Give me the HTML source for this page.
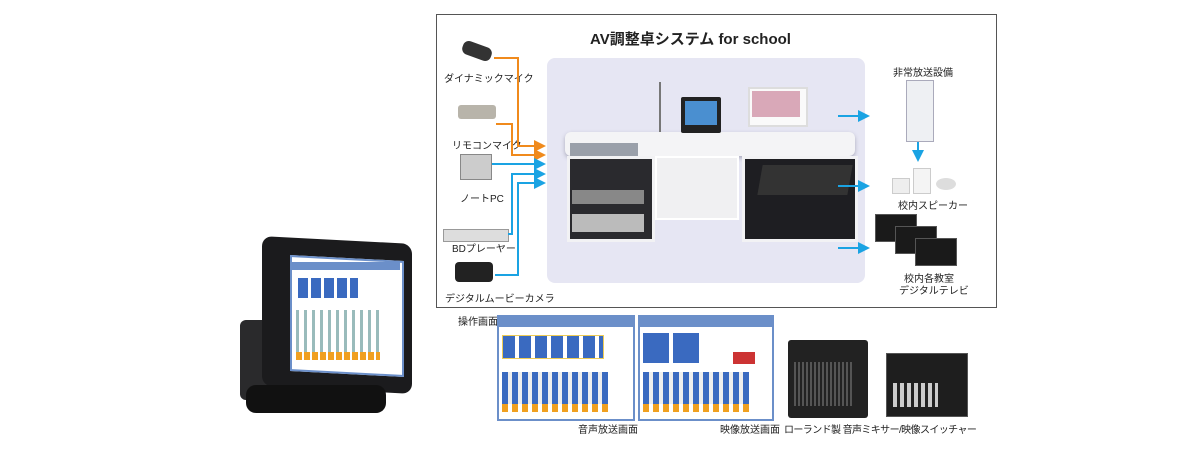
<!DOCTYPE html>
<html><head><meta charset="utf-8"><style>
body{margin:0;width:1200px;height:452px;background:#fff;position:relative;overflow:hidden;font-family:"Liberation Sans","Noto Sans CJK JP",sans-serif;color:#222}
.a{position:absolute}
.t{position:absolute;font-size:10px;white-space:nowrap;color:#222}
.scr{position:absolute;background:#fff;border:2px solid #6b8fc9}
</style></head><body>
<div class="a" style="left:436px;top:14px;width:559px;height:292px;border:1px solid #555"></div>
<div class="t" style="left:590px;top:28px;font-size:15px;font-weight:bold">AV調整卓システム for school</div>
<div class="a" style="left:547px;top:58px;width:318px;height:225px;background:#e6e6f3;border-radius:8px"></div>
<!-- desk -->
<div class="a" style="left:565px;top:132px;width:290px;height:24px;background:#f4f4f6;border-radius:6px;box-shadow:0 2px 4px #aab"></div>
<div class="a" style="left:567px;top:156px;width:82px;height:80px;background:#2a2a2e;border:3px solid #f2f2f4"></div>
<div class="a" style="left:572px;top:190px;width:72px;height:14px;background:#888"></div>
<div class="a" style="left:572px;top:214px;width:72px;height:18px;background:#bbb"></div>
<div class="a" style="left:655px;top:156px;width:80px;height:60px;background:#f0f0f2;border:2px solid #fff"></div>
<div class="a" style="left:742px;top:156px;width:110px;height:80px;background:#1e1e22;border:3px solid #f2f2f4"></div>
<div class="a" style="left:760px;top:165px;width:90px;height:30px;background:#333;transform:skewX(-10deg)"></div>
<div class="a" style="left:570px;top:143px;width:68px;height:13px;background:#9aa0aa"></div>
<div class="a" style="left:681px;top:97px;width:40px;height:36px;background:#222;border-radius:2px"></div>
<div class="a" style="left:685px;top:101px;width:32px;height:24px;background:#4a8fd0"></div>
<div class="a" style="left:748px;top:87px;width:56px;height:36px;background:#fafafa;border:2px solid #ddd"></div>
<div class="a" style="left:752px;top:91px;width:48px;height:26px;background:#d9a8b8"></div>
<div class="a" style="left:659px;top:82px;width:2px;height:50px;background:#777"></div>
<!-- left devices -->
<div class="a" style="left:462px;top:44px;width:30px;height:14px;background:#333;border-radius:6px;transform:rotate(20deg)"></div>
<div class="t" style="left:444px;top:70px">ダイナミックマイク</div>
<div class="a" style="left:458px;top:105px;width:38px;height:14px;background:#b8b4aa;border-radius:3px"></div>
<div class="t" style="left:452px;top:137px">リモコンマイク</div>
<div class="a" style="left:460px;top:154px;width:30px;height:24px;background:#ccc;border:1px solid #888"></div>
<div class="t" style="left:460px;top:190px">ノートPC</div>
<div class="a" style="left:443px;top:229px;width:64px;height:11px;background:#ddd;border:1px solid #999"></div>
<div class="t" style="left:452px;top:240px">BDプレーヤー</div>
<div class="a" style="left:455px;top:262px;width:38px;height:20px;background:#222;border-radius:4px"></div>
<div class="t" style="left:445px;top:290px">デジタルムービーカメラ</div>
<!-- connectors -->
<svg class="a" style="left:0;top:0" width="1200" height="452">
<defs><marker id="o" markerWidth="6" markerHeight="6" refX="5" refY="3" orient="auto"><path d="M0,0L6,3L0,6z" fill="#f08a1c"/></marker>
<marker id="b" markerWidth="6" markerHeight="6" refX="5" refY="3" orient="auto"><path d="M0,0L6,3L0,6z" fill="#1aa3e3"/></marker></defs>
<g fill="none" stroke-width="2">
<path d="M494,58H518V146H544" stroke="#f08a1c" marker-end="url(#o)"/>
<path d="M496,124H512V155H544" stroke="#f08a1c" marker-end="url(#o)"/>
<path d="M492,164H544" stroke="#1aa3e3" marker-end="url(#b)"/>
<path d="M508,234H512V174H544" stroke="#1aa3e3" marker-end="url(#b)"/>
<path d="M495,275H518V183H544" stroke="#1aa3e3" marker-end="url(#b)"/>
<path d="M838,116H868" stroke="#1aa3e3" marker-end="url(#b)"/>
<path d="M918,140V160" stroke="#1aa3e3" marker-end="url(#b)"/>
<path d="M838,186H868" stroke="#1aa3e3" marker-end="url(#b)"/>
<path d="M838,248H868" stroke="#1aa3e3" marker-end="url(#b)"/>
</g></svg>
<!-- right devices -->
<div class="t" style="left:893px;top:64px">非常放送設備</div>
<div class="a" style="left:906px;top:80px;width:26px;height:60px;background:#eef0f3;border:1px solid #aab"></div>
<div class="a" style="left:892px;top:178px;width:16px;height:14px;background:#eee;border:1px solid #ccc"></div>
<div class="a" style="left:913px;top:168px;width:16px;height:24px;background:#f4f4f4;border:1px solid #ccc"></div>
<div class="a" style="left:936px;top:178px;width:20px;height:12px;background:#ddd;border-radius:50%"></div>
<div class="t" style="left:898px;top:197px">校内スピーカー</div>
<div class="a" style="left:875px;top:214px;width:40px;height:26px;background:#1a1a1a;border:1px solid #555"></div>
<div class="a" style="left:895px;top:226px;width:40px;height:26px;background:#1a1a1a;border:1px solid #555"></div>
<div class="a" style="left:915px;top:238px;width:40px;height:26px;background:#1a1a1a;border:1px solid #555"></div>
<div class="t" style="left:904px;top:270px">校内各教室</div>
<div class="t" style="left:899px;top:282px">デジタルテレビ</div>
<!-- tablet -->
<div class="a" style="left:240px;top:320px;width:60px;height:80px;background:#2a2a2c;border-radius:6px"></div>
<div class="a" style="left:262px;top:240px;width:150px;height:150px;background:#1b1b1d;border-radius:10px;transform:skewY(3deg)"></div>
<div class="a" style="left:246px;top:385px;width:140px;height:28px;background:#111;border-radius:10px"></div>
<div class="a" style="left:290px;top:258px;width:110px;height:112px;background:#fff;border:2px solid #6b8fc9;transform:skewY(3deg)"></div>
<div class="a" style="left:292px;top:262px;width:108px;height:8px;background:#6b8fc9"></div>
<div class="a" style="left:298px;top:278px;width:60px;height:20px;background:repeating-linear-gradient(90deg,#3a6ac0 0 10px,#fff 10px 13px)"></div>
<div class="a" style="left:296px;top:310px;width:84px;height:48px;background:repeating-linear-gradient(90deg,#9bb 0 3px,#fff 3px 8px)"></div>
<div class="a" style="left:296px;top:352px;width:84px;height:8px;background:repeating-linear-gradient(90deg,#f0a020 0 6px,#fff 6px 8px)"></div>
<!-- screens -->
<div class="t" style="left:458px;top:313px">操作画面</div>
<div class="scr" style="left:497px;top:315px;width:134px;height:102px"></div>
<div class="a" style="left:499px;top:317px;width:134px;height:10px;background:#6b8fc9"></div>
<div class="a" style="left:502px;top:335px;width:100px;height:22px;background:repeating-linear-gradient(90deg,#3a6ac0 0 12px,#fff 12px 16px);border:1px solid #ec5"></div>
<div class="a" style="left:502px;top:372px;width:106px;height:34px;background:repeating-linear-gradient(90deg,#3a6ac0 0 6px,#eee 6px 10px)"></div>
<div class="a" style="left:502px;top:404px;width:106px;height:8px;background:repeating-linear-gradient(90deg,#f0a020 0 6px,#fff 6px 10px)"></div>
<div class="scr" style="left:638px;top:315px;width:132px;height:102px"></div>
<div class="a" style="left:640px;top:317px;width:132px;height:10px;background:#6b8fc9"></div>
<div class="a" style="left:643px;top:333px;width:58px;height:30px;background:repeating-linear-gradient(90deg,#3a6ac0 0 26px,#fff 26px 30px)"></div>
<div class="a" style="left:733px;top:352px;width:22px;height:12px;background:#c33"></div>
<div class="a" style="left:643px;top:372px;width:106px;height:34px;background:repeating-linear-gradient(90deg,#3a6ac0 0 6px,#eee 6px 10px)"></div>
<div class="a" style="left:643px;top:404px;width:106px;height:8px;background:repeating-linear-gradient(90deg,#f0a020 0 6px,#fff 6px 10px)"></div>
<div class="t" style="left:578px;top:421px">音声放送画面</div>
<div class="t" style="left:720px;top:421px">映像放送画面</div>
<div class="t" style="left:784px;top:421px;letter-spacing:-0.6px">ローランド製 音声ミキサー/映像スイッチャー</div>
<div class="a" style="left:788px;top:340px;width:80px;height:78px;background:#222;border-radius:3px"></div>
<div class="a" style="left:794px;top:362px;width:60px;height:44px;background:repeating-linear-gradient(90deg,#555 0 2px,#222 2px 4px)"></div>
<div class="a" style="left:886px;top:353px;width:80px;height:62px;background:#1e1e1e;border:1px solid #555"></div>
<div class="a" style="left:893px;top:383px;width:45px;height:24px;background:repeating-linear-gradient(90deg,#ccc 0 4px,#222 4px 7px)"></div>
</body></html>
